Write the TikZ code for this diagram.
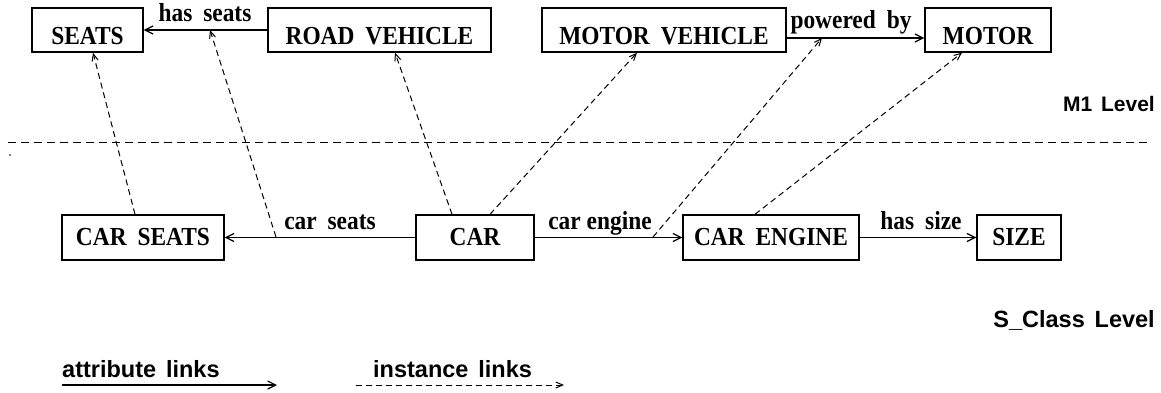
\documentclass[tikz,border=0pt]{standalone}
\usepackage{fontspec}
\setmainfont{Liberation Serif}[FakeStretch=0.9]
\newfontfamily\lvlfont{Liberation Sans}
\usetikzlibrary{arrows.meta}
\newcommand{\gap}{\hspace{0.42em}}

\begin{document}
\begin{tikzpicture}[x=1pt,y=-1pt,
  box/.style={draw,line width=1.4pt,inner sep=0pt,
    font=\bfseries\fontsize{26}{28}\selectfont},
  upper/.style={box,minimum height=44pt,text height=30pt,text depth=0pt},
  lower/.style={box,minimum height=45pt,text height=16pt,text depth=0pt},
  attr/.style={line width=1.2pt,-{Straight Barb[length=8pt,width=8pt]}},
  inst/.style={line width=1pt,dash pattern=on 6pt off 4pt,
    -{Straight Barb[length=7pt,width=6pt]}},
  lbl/.style={anchor=base,inner sep=0pt,
    font=\bfseries\fontsize{26}{28}\selectfont},
  sanslbl/.style={inner sep=0pt,
    font=\lvlfont\bfseries\fontsize{23.5}{26}\selectfont},
]
\useasboundingbox (0,0) rectangle (1161,393);

% classes of the M1 level
\node[upper,minimum width=111pt] (seats) at (87.5,30) {SEATS};
\node[upper,minimum width=223pt] (road)  at (379.5,30) {ROAD\gap VEHICLE};
\node[upper,minimum width=244pt] (mveh)  at (664,30) {MOTOR\gap VEHICLE};
\node[upper,minimum width=126pt] (motor) at (988,30) {MOTOR};

% classes of the S_Class level
\node[lower,minimum width=162pt] (cseats) at (143,237.5) {CAR\gap SEATS};
\node[lower,minimum width=118pt] (car)    at (475,237.5) {CAR};
\node[lower,minimum width=176pt] (ceng)   at (771,237.5) {CAR\gap ENGINE};
\node[lower,minimum width=84pt]  (size)   at (1019,237.5) {SIZE};

% attribute links
\coordinate (pbrow) at (0,38);
\draw[attr] (road.west) -- (seats.east);
\draw[attr] (mveh.east |- pbrow) -- (motor.west |- pbrow);
\draw[attr] (car.west) -- (cseats.east);
\draw[attr] (car.east) -- (ceng.west);
\draw[attr] (ceng.east) -- (size.west);

\node[lbl] (lhs) at (205,22)  {has\gap seats};
\node[lbl] (lpb) at (851,29)  {powered\gap by};
\node[lbl] (lcs) at (330,229) {car\gap seats};
\node[lbl] (lce) at (600,229) {car engine};
\node[lbl] (lsz) at (921,229) {has\gap size};

% instance links
\coordinate (csfoot) at (276,237);
\coordinate (hshead) at (210,30);
\coordinate (cefoot) at (653,237);
\coordinate (pbhead) at (822,38);
\draw[inst] ([xshift=-8pt]cseats.north) -- ([xshift=5.5pt]seats.south);
\draw[inst] (csfoot) -- (hshead);
\draw[inst] ([xshift=-23pt]car.north) -- ([xshift=15.5pt]road.south);
\draw[inst] ([xshift=15pt]car.north) -- ([xshift=-27pt]mveh.south);
\draw[inst] (cefoot) -- (pbhead);
\draw[inst] ([xshift=-16pt]ceng.north) -- ([xshift=-26pt]motor.south);

% level separator
\coordinate (sepL) at (8,142);
\coordinate (sepR) at (1150,142);
\draw[line width=1pt,dash pattern=on 8pt off 5pt] (sepL) -- (sepR);
\fill (10,155) circle (0.9pt);

\node[sanslbl,anchor=base east,font=\lvlfont\bfseries\fontsize{21}{24}\selectfont]
  (m1) at (1155,112) {M1\gap Level};
\node[sanslbl,anchor=base east] (scl) at (1155,327) {S\_Class\gap Level};

% legend
\node[sanslbl,anchor=base west] (lattr) at (62,377) {attribute\gap links};
\coordinate (la1) at (62,385);
\coordinate (la2) at (277,385);
\draw[attr] (la1) -- (la2);
\node[sanslbl,anchor=base west] (linst) at (373,377) {instance\gap links};
\coordinate (li1) at (356,385);
\coordinate (li2) at (564,385);
\draw[inst] (li1) -- (li2);
\end{tikzpicture}
\end{document}
